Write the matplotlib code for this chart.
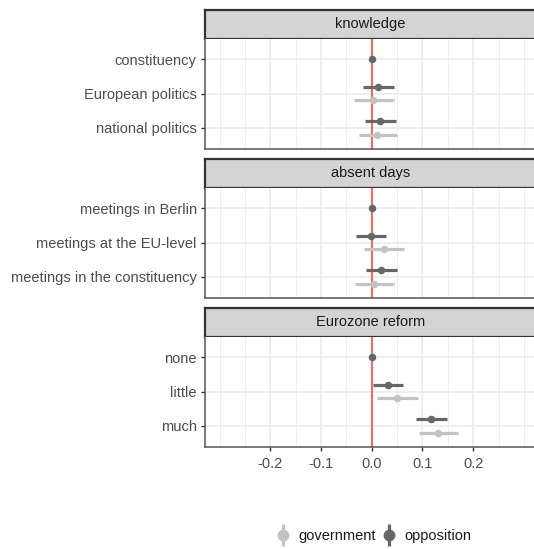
import numpy as np
import matplotlib
matplotlib.use("Agg")
import matplotlib.pyplot as plt
from matplotlib.lines import Line2D
from matplotlib.legend_handler import HandlerTuple

plt.rcParams['font.family'] = ['Liberation Sans', 'DejaVu Sans']

panels = ["knowledge", "absent days", "Eurozone reform"]
categories = [
    ["constituency", "European politics", "national politics"],
    ["meetings in Berlin", "meetings at the EU-level", "meetings in the constituency"],
    ["none", "little", "much"],
]
opp_est = [[0.0, 0.013, 0.016], [0.0, -0.001, 0.018], [0.0, 0.032, 0.117]]
opp_lo = [[0.0, -0.017, -0.014], [0.0, -0.031, -0.012], [0.0, 0.002, 0.087]]
opp_hi = [[0.0, 0.043, 0.047], [0.0, 0.028, 0.049], [0.0, 0.062, 0.148]]
gov_est = [[np.nan, 0.003, 0.011], [np.nan, 0.024, 0.005], [np.nan, 0.050, 0.131]]
gov_lo = [[np.nan, -0.035, -0.026], [np.nan, -0.015, -0.034], [np.nan, 0.011, 0.093]]
gov_hi = [[np.nan, 0.043, 0.049], [np.nan, 0.063, 0.043], [np.nan, 0.091, 0.170]]
xticks = [-0.2, -0.1, 0.0, 0.1, 0.2]
xtick_labels = ["-0.2", "-0.1", "0.0", "0.1", "0.2"]
legend_labels = ["government", "opposition"]

W, H = 534, 549
fig = plt.figure(figsize=(W / 100, H / 100), dpi=100)

OPP = "#676767"
GOV = "#c3c3c3"
RED = "#ef6a6a"
GRID = "#ebebeb"
TXT = "#4d4d4d"
FS = 10.5

def px(l, t, r, b):
    return [l / W, 1 - b / H, (r - l) / W, (b - t) / H]

left, right = 205, 534
strip_tops = [9.5, 158.5, 307.5]
strip_h = 29
panel_h = 110

for i, name in enumerate(panels):
    st = strip_tops[i]
    # strip
    sax = fig.add_axes(px(left, st, right + 2, st + strip_h))
    sax.set_facecolor("#d4d4d4")
    sax.set_xticks([]); sax.set_yticks([])
    for s in sax.spines.values():
        s.set_color("#333333"); s.set_linewidth(1.6)
    sax.text(0.5, 0.5, name, ha="center", va="center", fontsize=FS,
             color="#1a1a1a", transform=sax.transAxes)

    pt = st + strip_h
    ax = fig.add_axes(px(left, pt, right, pt + panel_h))
    cats = categories[i]
    n = len(cats)
    ax.set_ylim(n - 1 + 0.6, -0.6)
    ax.set_xlim(-0.329, 0.320)
    # grid
    for gx in [-0.3, -0.25, -0.15, -0.05, 0.05, 0.15, 0.25, 0.3]:
        ax.axvline(gx, color=GRID, lw=0.6, zorder=0)
    for gx in xticks:
        ax.axvline(gx, color=GRID, lw=1.2, zorder=0)
    for j in range(n):
        ax.axhline(j, color=GRID, lw=1.2, zorder=0)
    ax.axvline(0, color=RED, lw=1.5, zorder=1)
    for j in range(n):
        has_gov = not np.isnan(gov_est[i][j])
        off = 0.2 if has_gov else 0.0
        yo = j - off
        ax.plot([opp_lo[i][j], opp_hi[i][j]], [yo, yo], color=OPP, lw=2.3,
                solid_capstyle="butt", zorder=3)
        ax.plot(opp_est[i][j], yo, "o", color=OPP, ms=4.4, zorder=4)
        if has_gov:
            yg = j + off
            ax.plot([gov_lo[i][j], gov_hi[i][j]], [yg, yg], color=GOV, lw=2.3,
                    solid_capstyle="butt", zorder=3)
            ax.plot(gov_est[i][j], yg, "o", color=GOV, ms=4.4, zorder=4)
    ax.set_yticks(range(n))
    ax.set_yticklabels(cats, fontsize=FS, color=TXT)
    ax.set_xticks(xticks)
    if i == 2:
        ax.set_xticklabels(xtick_labels, fontsize=FS, color=TXT)
        ax.tick_params(axis="x", length=3, width=1, color="#333333", pad=4.5)
    else:
        ax.set_xticklabels([])
        ax.tick_params(axis="x", length=0)
    ax.tick_params(axis="y", length=3, width=1, color="#333333", pad=3)
    for s in ["top", "right"]:
        ax.spines[s].set_visible(False)
    for s in ["left", "bottom"]:
        ax.spines[s].set_color("#555555"); ax.spines[s].set_linewidth(1.1)

def key(color):
    return (Line2D([], [], color=color, marker="|", ms=16, mew=2.3, ls="none"),
            Line2D([], [], color=color, marker="o", ms=7.5, ls="none"))

handles = [key(GOV), key(OPP)]
fig.legend(handles, legend_labels, handler_map={tuple: HandlerTuple(ndivide=1)},
           loc="center", bbox_to_anchor=(373.5 / W, 1 - 536 / H), ncol=2, frameon=False,
           fontsize=FS, handlelength=1.0, handletextpad=0.6, columnspacing=0.35,
           labelcolor="#1a1a1a")

fig.savefig("out.png", dpi=100)
